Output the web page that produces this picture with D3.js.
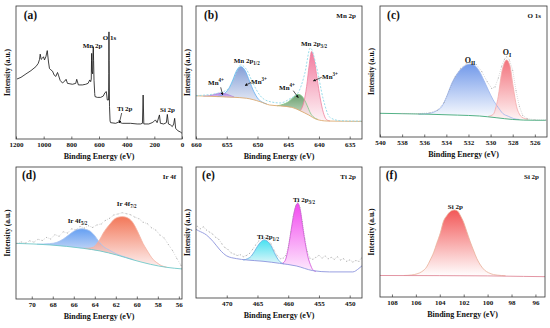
<!DOCTYPE html>
<html><head><meta charset="utf-8">
<script src="https://cdn.jsdelivr.net/npm/d3@7"></script>
<style>body{margin:0;background:#fff}svg{display:block}</style>
</head><body><svg id="c" width="550" height="328"></svg>
<script>
// ---------------- DATA ----------------
const surveyTicks=[1200,1000,800,600,400,200,0];
const surveyData=[[1193,46],[1164,47.3],[1128,49.9],[1092,52.4],[1056,55.5],[1039,58],[1030,61],[1025,65],[1018,61],[1008,62],[1001,63],[994,60.6],[984,63],[974,67.7],[965,59],[958,54],[948,53],[936,52],[924,49],[912,48],[900,51],[893,49],[881,45],[864,43],[847,44.5],[838,45.8],[828,42.7],[792,42],[768,42.7],[761,45.8],[749,41.5],[720,41.5],[696,42],[679,42.7],[667,45.3],[660,44],[656,46],[654,60],[653,65.6],[651,52],[646,50],[643,66],[641,70.7],[639,60],[636,45],[631,35],[629,32.6],[612,32],[588,32],[569,33],[557,35.6],[547,36.4],[540,30],[531,30],[529,50],[528,82],[527,60],[524,25],[520,14],[516,12.7],[480,12.2],[456,13.2],[432,12.2],[372,12.2],[324,11.7],[300,11.7],[286,12.2],[281,33.8],[276,11.7],[240,11.7],[216,12.7],[204,13.5],[192,14.8],[180,12.7],[163,18.6],[156,12.2],[132,11.7],[113,12.7],[106,19],[98,11.7],[84,11],[70,9.7],[60,11.7],[53,16],[46,8.4],[31,6.6],[12,5.6],[0,4.6]];

const mnTicks=[660,655,650,645,640,635];
const mnBaseline=[[660,32.7],[659.35,32.6],[656.1,32],[651.8,30.8],[649.6,28.2],[648,25.6],[646.3,24.9],[644.4,23.8],[643.1,21.3],[641.7,18],[640.4,14.6],[638.7,13.3],[633,13]];
const mnMn4Upper=[[658.8,32.5],[657.8,32.8],[656.8,34],[656.1,34.8],[655.4,34.5],[654.6,33.2],[653.8,31.8]];
const mnMn3Upper=[[656.5,32.1],[655.5,34],[654.7,38],[654.0,45],[653.4,52],[652.7,55.1],[652.0,52],[651.3,44],[650.6,36],[650.0,31],[649.3,28],[648.5,26.5]];
const mnMn4Lower=[[646.8,25],[645.8,26.2],[645,28],[644.4,30.5],[643.9,32.8],[643.4,33.8],[642.9,33],[642.4,30],[641.9,25],[641.4,19.5],[640.8,16],[640.2,14.6]];
const mnMn3Lower=[[643.0,21.5],[642.5,27],[642.0,40],[641.6,56],[641.2,66.7],[640.8,61],[640.3,46],[639.8,31],[639.3,20],[638.8,14.5],[638.2,13.3]];
const mnEnvelope=[[660,32.8],[656.5,34.6],[654.5,39],[653.5,50],[652.7,56.5],[651.8,53],[650.7,42],[649.6,33],[648.2,28.5],[646.3,27.2],[644.7,30.5],[643.4,35],[642.3,50],[641.4,69.5],[640.4,55],[639.3,30],[638.2,16],[636.6,13.6],[633,13.2]];

const oTicks=[540,538,536,534,532,530,528,526];
const oBaseline=[[540,18.6],[536,18],[533,17.2],[531,16.5],[529.5,15.2],[528,13.8],[526,13.2],[525,13.2]];
const oII=[[536.5,17.9],[535.9,18.2],[535.3,19],[534.9,20.5],[534.4,24],[534.0,31],[533.5,42],[533.0,49.5],[532.6,53.5],[532.2,56],[531.8,56.8],[531.4,55.5],[531.0,51],[530.6,44],[530.2,36.5],[529.8,29.5],[529.3,23],[528.9,18.5],[528.4,16.3],[527.9,14.5],[527.4,13.8]];
const oI=[[530.2,16.3],[529.76,17.8],[529.5,24],[529.31,31.5],[529.01,49.6],[528.77,57.4],[528.56,60],[528.26,55.8],[527.96,39.3],[527.65,23.8],[527.4,18],[527.2,15.8],[526.6,13.9]];
const oRaw=[[538,18.5],[536.5,18.3],[535.5,19],[534.8,21],[534.2,27],[533.7,37],[533.2,47],[532.7,53.5],[532.2,57],[531.8,58],[531.3,56.5],[530.8,51],[530.3,43],[529.9,38],[529.6,39],[529.3,46],[529.0,55],[528.75,60.5],[528.55,62.5],[528.3,60],[528.0,52],[527.7,36],[527.4,24],[527.1,17],[526.7,14.5],[526,13.6],[525,13.4]];

const irTicks=[70,68,66,64,62,60,58,56];
const irBaseline=[[71.5,42.7],[68.26,41.5],[65.1,38.9],[63.5,36.9],[61.9,33.8],[60.3,30],[58.7,26.7],[57.15,24.4],[55.7,23.2]];
const ir52=[[69.5,42.1],[68.3,42.5],[67.6,43.5],[67.0,46],[66.5,49],[66.0,52],[65.5,53.6],[65.2,53.8],[64.8,53.2],[64.4,51.8],[64.0,48.5],[63.6,44],[63.2,40.5],[62.6,37.5],[61.9,34.5],[61.0,32],[60.3,30.2]];
const ir72=[[65.1,38.9],[64.6,39],[64.14,39.8],[63.8,42.5],[63.5,46],[63.2,50.5],[62.86,54.5],[62.5,58],[62.23,60.6],[61.8,62.6],[61.43,63.1],[61.1,62.8],[60.8,61.8],[60.33,58],[60.0,53],[59.7,47.8],[59.4,42.5],[59.05,37.7],[58.73,33.5],[58.43,30.2],[58.1,28],[57.8,26.3],[57.15,24.5]];
const irRaw=[[71.4,42.6],[71.0,43.8],[70.6,42.9],[70.2,44.6],[69.8,43.7],[69.4,45.8],[69.0,44.9],[68.6,47.2],[68.2,46.1],[67.8,49.3],[67.4,48.2],[67.0,51.5],[66.6,50.6],[66.2,53.8],[65.8,53.1],[65.4,55.6],[65.0,54.4],[64.6,56.1],[64.2,54.9],[63.8,56.8],[63.4,57.5],[63.0,60.2],[62.6,61.8],[62.2,64.3],[61.8,65.2],[61.4,66.1],[61.0,65.4],[60.6,64.6],[60.2,62.8],[59.8,61.5],[59.4,58.9],[59.0,57.7],[58.6,54.6],[58.2,52.9],[57.8,49.1],[57.4,46.8],[57.0,41.9],[56.6,37.2],[56.2,31.4],[55.8,26]];

const tiTicks=[470,465,460,455,450];
const tiBaseline=[[475,53],[474.6,52],[473.3,48.7],[472.2,43.6],[471.1,37.2],[470.0,32.6],[468.4,30.5],[466.8,29.5],[464.1,28.5],[461.4,26.9],[458.7,24.9],[456.0,21.3],[453.3,20.3],[449.5,20.3],[448.5,23],[448,25]];
const ti12=[[467.3,29.4],[466.6,30.5],[466.0,32.5],[465.5,36],[465.0,40],[464.5,43.2],[463.9,44.9],[463.3,43.5],[462.8,40.5],[462.3,35.5],[461.8,31],[461.2,27.5],[460.7,26.5]];
const ti32=[[461.0,26.8],[460.5,29],[460.1,36],[459.8,44],[459.5,53],[459.2,62],[458.9,69],[458.45,73.1],[458.0,67],[457.7,57],[457.4,47.4],[457.1,39],[456.8,32],[456.4,26],[456.0,22],[455.5,20.6]];
const tiRaw=[[474.8,55.5],[474.3,53.5],[473.8,55],[473.3,52.5],[472.8,51],[472.3,49.5],[471.8,47],[471.3,45.5],[470.8,42],[470.3,39],[469.8,37.5],[469.3,35],[468.8,34],[468.3,33],[467.8,33.5],[467.3,32],[466.8,33],[466.3,34.5],[465.8,37.5],[465.3,41],[464.8,44],[464.3,46],[463.8,46.5],[463.3,45],[462.8,42],[462.3,37],[461.8,33],[461.3,30.5],[460.8,31],[460.4,33],[460.0,39],[459.6,51],[459.2,63],[458.8,71],[458.45,74.5],[458.1,70],[457.7,59],[457.3,46],[456.9,36],[456.5,31],[456.0,30],[455.5,31.5],[455.0,33],[454.5,31],[454.0,32.5],[453.5,30.5],[453.0,31.5],[452.5,30],[452.0,32],[451.5,29.5],[451.0,30.5],[450.5,28.5],[450.0,29.5],[449.5,28],[449.0,29],[448.5,28.5],[448.1,31]];

const siTicks=[108,106,104,102,100,98,96];
const siBaseline=[[109,16.9],[104,16.8],[100,16.6],[97,16.2],[95.2,16]];
const siPeak=[[107,16.9],[106.35,17.3],[105.9,18.2],[105.5,19.9],[105.1,23.5],[104.8,28.9],[104.5,35],[104.25,41.9],[103.95,50],[103.7,58.7],[103.4,63.5],[103.14,66.4],[102.78,67.7],[102.5,66.8],[102.3,63.8],[102.0,58],[101.74,50.9],[101.45,43],[101.19,36.7],[100.9,30],[100.6,25],[100.25,21],[99.93,19.1],[99.5,17.6],[99.2,17.2],[98.5,16.7]];

// ---------------- DRAWING ----------------
const FONT='"Liberation Serif","Times New Roman",Times,serif';
const svg=d3.select('#c');
const defs=svg.append('defs');
defs.append('marker').attr('id','arr').attr('viewBox','0 0 10 10').attr('refX',9).attr('refY',5)
  .attr('markerWidth',4).attr('markerHeight',4).attr('orient','auto')
  .append('path').attr('d','M0,0L10,5L0,10z').attr('fill','#111');

function rich(g,x,y,parts,size,anchor){
  const t=g.append('text').attr('x',x).attr('y',y).attr('text-anchor',anchor||'middle')
    .attr('font-family',FONT).attr('font-weight','bold').attr('font-size',size).attr('fill','#111');
  let shift=0;
  parts.forEach(p=>{
    const target=p.sub?size*0.3:p.sup?-size*0.4:0;
    t.append('tspan').attr('dy',target-shift).attr('font-size',(p.sub||p.sup)?size*0.72:size).text(p.t);
    shift=target;
  });
  return t;
}
let gid=0;
function grad(c1,c2){
  const id='g'+(gid++);
  const lg=defs.append('linearGradient').attr('id',id).attr('x1',0).attr('y1',0).attr('x2',0).attr('y2',1);
  lg.append('stop').attr('offset','0%').attr('stop-color',c1);
  lg.append('stop').attr('offset','100%').attr('stop-color',c2);
  return `url(#${id})`;
}

function panel(o){
  const g=svg.append('g');
  const x=d3.scaleLinear().domain(o.xd).range([o.x0,o.x1]);
  const y=d3.scaleLinear().domain([0,100]).range([o.yb,o.yt]);
  const cid='clip'+o.id;
  defs.append('clipPath').attr('id',cid).append('rect').attr('x',o.x0).attr('y',o.y0).attr('width',o.x1-o.x0).attr('height',o.y1-o.y0);
  const pg=g.append('g').attr('clip-path',`url(#${cid})`);

  if(o.survey){
    pg.append('path').datum(o.survey).attr('fill','none').attr('stroke','#111').attr('stroke-width',0.8)
      .attr('d',d3.line().x(d=>x(d[0])).y(d=>y(d[1])));
  }
  let base=null;
  if(o.baseline){
    base=d3.scaleLinear().domain(o.baseline.map(d=>d[0])).range(o.baseline.map(d=>d[1])).clamp(true);
  }
  (o.comps||[]).forEach(c=>{
    const area=d3.area().x(d=>x(d[0])).y0(d=>y(base(d[0]))).y1(d=>y(d[1])).curve(d3.curveMonotoneX);
    pg.append('path').datum(c.data).attr('fill',grad(c.c1,c.c2)).attr('fill-opacity',c.op||0.85).attr('d',area);
  });
  (o.comps||[]).forEach(c=>{
    pg.append('path').datum(c.data).attr('fill','none').attr('stroke',c.stroke).attr('stroke-width',0.8)
      .attr('d',d3.line().x(d=>x(d[0])).y(d=>y(d[1])).curve(d3.curveMonotoneX));
  });
  if(o.baseline){
    pg.append('path').datum(o.baseline).attr('fill','none').attr('stroke',o.baseColor).attr('stroke-width',0.9)
      .attr('d',d3.line().x(d=>x(d[0])).y(d=>y(d[1])).curve(d3.curveMonotoneX));
  }
  if(o.envelope){
    pg.append('path').datum(o.envelope).attr('fill','none').attr('stroke',o.envColor).attr('stroke-width',0.9)
      .attr('stroke-dasharray','2,1.5')
      .attr('d',d3.line().x(d=>x(d[0])).y(d=>y(d[1])).curve(d3.curveMonotoneX));
  }
  if(o.raw){
    pg.append('path').datum(o.raw).attr('fill','none').attr('stroke','#9a9a9a').attr('stroke-width',0.6)
      .attr('stroke-dasharray','0.6,1.4')
      .attr('d',d3.line().x(d=>x(d[0])).y(d=>y(d[1])).curve(d3.curveLinear));
    pg.selectAll('circle.raw').data(o.raw).enter().append('circle').attr('class','raw')
      .attr('cx',d=>x(d[0])).attr('cy',d=>y(d[1])).attr('r',0.5).attr('fill','#a8a8a8');
  }
  // frame
  g.append('rect').attr('x',o.x0).attr('y',o.y0).attr('width',o.x1-o.x0).attr('height',o.y1-o.y0)
    .attr('fill','none').attr('stroke','#333').attr('stroke-width',0.8);
  // axis
  const ax=d3.axisBottom(x).tickValues(o.ticks).tickSize(-2.5).tickPadding(3.5).tickFormat(d3.format('d'));
  const ag=g.append('g').attr('transform',`translate(0,${o.y1})`).call(ax);
  ag.select('.domain').remove();
  ag.selectAll('line').attr('stroke','#333').attr('stroke-width',0.7);
  ag.selectAll('text').attr('font-family',FONT).attr('font-weight','bold').attr('font-size',7).attr('fill','#111');
  // titles
  g.append('text').attr('x',(o.x0+o.x1)/2).attr('y',o.y1+20).attr('text-anchor','middle')
    .attr('font-family',FONT).attr('font-weight','bold').attr('font-size',8).attr('fill','#111').text('Binding Energy (eV)');
  g.append('text').attr('transform',`translate(${o.x0-6.5},${(o.y0+o.y1)/2}) rotate(-90)`).attr('text-anchor','middle')
    .attr('font-family',FONT).attr('font-weight','bold').attr('font-size',7.5).attr('fill','#111').text('Intensity (a.u.)');
  g.append('text').attr('x',o.lx).attr('y',o.ly).attr('text-anchor','middle')
    .attr('font-family',FONT).attr('font-weight','bold').attr('font-size',11.5).attr('fill','#111').text(o.label);
  if(o.name){
    g.append('text').attr('x',o.x1-6).attr('y',o.y0+12).attr('text-anchor','end')
      .attr('font-family',FONT).attr('font-weight','bold').attr('font-size',7).attr('fill','#111').text(o.name);
  }
  (o.annos||[]).forEach(a=>rich(g,a.x,a.y,a.parts,a.size||7));
  (o.arrows||[]).forEach(a=>{
    g.append('line').attr('x1',a[0]).attr('y1',a[1]).attr('x2',a[2]).attr('y2',a[3])
      .attr('stroke','#111').attr('stroke-width',0.7).attr('marker-end','url(#arr)');
  });
}

panel({id:'a',x0:16,x1:182,y0:6,y1:139,yb:139.3,yt:8.3,xd:[1200,0],ticks:surveyTicks,survey:surveyData,
  label:'(a)',lx:30.5,ly:18.5,
  annos:[{x:92.5,y:48,parts:[{t:'Mn 2p'}]},{x:109.5,y:40.3,parts:[{t:'O 1s'}]},
         {x:124.7,y:111,parts:[{t:'Ti 2p'}]},{x:167.5,y:111.5,parts:[{t:'Si 2p'}]}],
  arrows:[[121.7,113],[119.3,122.7]].length?[[121.7,113,119.3,123]]:[]});

panel({id:'b',x0:196,x1:362,y0:6,y1:139,yb:138.3,yt:8.3,xd:[660,633],ticks:mnTicks,
  baseline:mnBaseline,baseColor:'#dcaa70',envelope:mnEnvelope,envColor:'#8fd8e8',
  comps:[{data:mnMn3Upper,c1:'#6f8fd0',c2:'#e6eaf5',stroke:'#5eaef2'},
         {data:mnMn4Upper,c1:'#a060d8',c2:'#dccaf0',stroke:'#b080e0'},
         {data:mnMn4Lower,c1:'#4f8f55',c2:'#cfe0cb',stroke:'#7cc884'},
         {data:mnMn3Lower,c1:'#f0648e',c2:'#fdf2f5',stroke:'#f0809e'}],
  label:'(b)',lx:211,ly:18.5,name:'Mn 2p',
  annos:[{x:246.7,y:62.5,parts:[{t:'Mn 2p'},{t:'1/2',sub:true}]},
         {x:259,y:83.5,parts:[{t:'Mn'},{t:'3+',sup:true}]},
         {x:216,y:84.5,parts:[{t:'Mn'},{t:'4+',sup:true}]},
         {x:314,y:45.5,parts:[{t:'Mn 2p'},{t:'3/2',sub:true}]},
         {x:330,y:78.5,parts:[{t:'Mn'},{t:'3+',sup:true}]},
         {x:287,y:89.5,parts:[{t:'Mn'},{t:'4+',sup:true}]}],
  arrows:[[251,82.5,245,85.5],[220.7,87.3,222.7,95],[321.7,77.3,313.3,81],[293.3,90.7,298.3,97.7]]});

panel({id:'c',x0:380,x1:547,y0:6,y1:137,yb:137.3,yt:8.3,xd:[540,524.9],ticks:oTicks,
  baseline:oBaseline,baseColor:'#3fa878',raw:oRaw,
  comps:[{data:oII,c1:'#5a88e6',c2:'#ffffff',stroke:'#9ab4ee'},
         {data:oI,c1:'#f05a66',c2:'#fff3f3',stroke:'#f4aaaa'}],
  label:'(c)',lx:393.5,ly:18.5,name:'O 1s',
  annos:[{x:470,y:62.5,parts:[{t:'O'},{t:'II',sub:true}],size:8},
         {x:507,y:54.5,parts:[{t:'O'},{t:'I',sub:true}],size:8}]});

panel({id:'d',x0:16,x1:182,y0:167,y1:299,yb:299.3,yt:168.3,xd:[71.5,55.7],ticks:irTicks,
  baseline:irBaseline,baseColor:'#70c8c8',raw:irRaw,
  comps:[{data:ir52,c1:'#4a8ff0',c2:'#e8eaf6',stroke:'#a8c4f0'},
         {data:ir72,c1:'#f0603c',c2:'#fdeeee',stroke:'#f4b0a0'}],
  label:'(d)',lx:29,ly:179,name:'Ir 4f',
  annos:[{x:77.5,y:222.5,parts:[{t:'Ir 4f'},{t:'5/2',sub:true}]},
         {x:126.7,y:206,parts:[{t:'Ir 4f'},{t:'7/2',sub:true}]}]});

panel({id:'e',x0:196,x1:362,y0:167,y1:298,yb:298.3,yt:168.3,xd:[475,448],ticks:tiTicks,
  baseline:tiBaseline,baseColor:'#8c94dc',raw:tiRaw,
  comps:[{data:ti12,c1:'#28dcee',c2:'#dcf5f9',stroke:'#60a8e0'},
         {data:ti32,c1:'#f028ec',c2:'#fde8fd',stroke:'#d050d8'}],
  label:'(e)',lx:208.5,ly:179,name:'Ti 2p',
  annos:[{x:268,y:239,parts:[{t:'Ti 2p'},{t:'1/2',sub:true}]},
         {x:304,y:201.5,parts:[{t:'Ti 2p'},{t:'3/2',sub:true}]}]});

panel({id:'f',x0:380,x1:545,y0:167,y1:297,yb:297.3,yt:168.3,xd:[109,95.2],ticks:siTicks,
  baseline:siBaseline,baseColor:'#e08a9a',
  comps:[{data:siPeak,c1:'#f03a3a',c2:'#ffffff',stroke:'#e8b098'}],
  label:'(f)',lx:391.5,ly:179,name:'Si 2p',
  annos:[{x:455.3,y:209,parts:[{t:'Si 2p'}]}]});
</script>
</body></html>
